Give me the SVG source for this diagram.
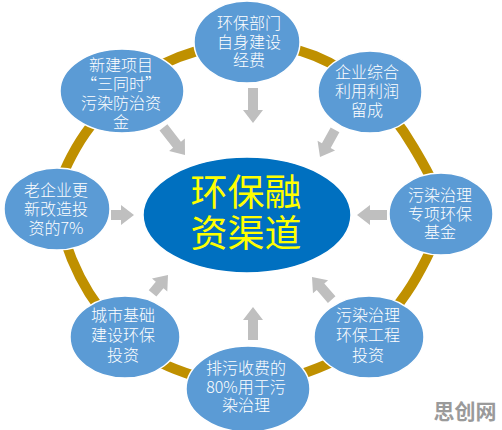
<svg xmlns="http://www.w3.org/2000/svg" width="502" height="430" viewBox="0 0 502 430">
<style>
.node{fill:#5B9BD5;stroke:#FFFFFF;stroke-width:1.5}
.nt{font-family:"Noto Sans CJK SC","Noto Sans",sans-serif;font-size:16px;font-weight:300;fill:#FFFFFF;text-anchor:middle}
.ct{font-family:"Noto Sans CJK SC",sans-serif;font-size:37px;fill:#FFFF00;text-anchor:middle}
.arr{fill:#BFBFBF}
.ring{fill:none;stroke:#BF9000;stroke-width:10}
</style>
<rect width="502" height="430" fill="#FFFFFF"/>
<g id="ring">
<path class="ring" d="M248,44 C270.7,43.8 294.7,48 315,56 C335.3,64 353.5,76.7 370,92 C386.5,107.3 402.3,128 414,148 C425.7,168 439.7,190.3 440,212 C440.3,233.7 427.8,257.2 416,278 C404.2,298.8 385.3,322 369,337 C352.7,352 338.2,360 318,368 C297.8,376 271.8,384.8 248,385 C224.2,385.2 195.5,377 175,369 C154.5,361 140.8,352.3 125,337 C109.2,321.7 91.2,299 80,277 C68.8,255 58.7,226.5 58,205 C57.3,183.5 65.3,166.8 76,148 C86.7,129.2 104.8,107.2 122,92 C139.2,76.8 158,65 179,57 C200,49 225.3,44.2 248,44 Z"/>
</g>
<g id="center">
<ellipse cx="247" cy="215" rx="104" ry="58" fill="#0070C0" stroke="#FFFFFF" stroke-width="1.5"/>
<text class="ct" x="246" y="206">环保融<tspan x="246" dy="41">资渠道</tspan></text>
</g>
<g id="n-top">
<ellipse class="node" cx="247" cy="42" rx="53" ry="41"/>
<text class="nt" x="249" y="29">环保部门<tspan x="249" dy="19">自身建设</tspan><tspan x="249" dy="18">经费</tspan></text>
</g>
<g id="n-ul">
<ellipse class="node" cx="122" cy="91" rx="62" ry="42"/>
<text class="nt" x="121" y="71">新建项目<tspan x="121" dy="19">“三同时”</tspan><tspan x="121" dy="19">污染防治资</tspan><tspan x="121" dy="19">金</tspan></text>
</g>
<g id="n-ur">
<ellipse class="node" cx="370" cy="92" rx="52" ry="41"/>
<text class="nt" x="367" y="78">企业综合<tspan x="367" dy="19">利用利润</tspan><tspan x="367" dy="19">留成</tspan></text>
</g>
<g id="n-left">
<ellipse class="node" cx="57" cy="209" rx="53" ry="41"/>
<text class="nt" x="56" y="196">老企业更<tspan x="56" dy="19">新改造投</tspan><tspan x="56" dy="19">资的7%</tspan></text>
</g>
<g id="n-right">
<ellipse class="node" cx="441" cy="214" rx="52" ry="41"/>
<text class="nt" x="440" y="201">污染治理<tspan x="440" dy="19">专项环保</tspan><tspan x="440" dy="18">基金</tspan></text>
</g>
<g id="n-ll">
<ellipse class="node" cx="125" cy="337" rx="55" ry="41"/>
<text class="nt" x="123" y="321">城市基础<tspan x="123" dy="20">建设环保</tspan><tspan x="123" dy="20">投资</tspan></text>
</g>
<g id="n-lr">
<ellipse class="node" cx="369" cy="337" rx="55" ry="41"/>
<text class="nt" x="368" y="321">污染治理<tspan x="368" dy="20">环保工程</tspan><tspan x="368" dy="20">投资</tspan></text>
</g>
<g id="n-bottom">
<ellipse class="node" cx="248" cy="389" rx="62" ry="43"/>
<text class="nt" x="246" y="374">排污收费的<tspan x="246" dy="19">80%用于污</tspan><tspan x="246" dy="18">染治理</tspan></text>
</g>
<g id="connectors">
<polygon class="arr" transform="translate(253,123) rotate(90)" points="-35,-5 -13,-5 -13,-10 0,0 -13,10 -13,5 -35,5"/>
<polygon class="arr" transform="translate(185,155) rotate(52)" points="-35,-5 -13,-5 -13,-10 0,0 -13,10 -13,5 -35,5"/>
<polygon class="arr" transform="translate(320,157) rotate(119)" points="-31,-5 -13,-5 -13,-10 0,0 -13,10 -13,5 -31,5"/>
<polygon class="arr" transform="translate(134,215)" points="-23,-5 -13,-5 -13,-10 0,0 -13,10 -13,5 -23,5"/>
<polygon class="arr" transform="translate(357,215) rotate(180)" points="-30,-5 -13,-5 -13,-10 0,0 -13,10 -13,5 -30,5"/>
<polygon class="arr" transform="translate(168,275) rotate(-50)" points="-24,-5 -13,-5 -13,-10 0,0 -13,10 -13,5 -24,5"/>
<polygon class="arr" transform="translate(253,307) rotate(-90)" points="-33,-5 -13,-5 -13,-10 0,0 -13,10 -13,5 -33,5"/>
<polygon class="arr" transform="translate(312,277) rotate(-131)" points="-30,-5 -13,-5 -13,-10 0,0 -13,10 -13,5 -30,5"/>
</g>
<text x="465" y="419" font-family="Noto Sans CJK SC,sans-serif" font-size="21" font-weight="bold" fill="#9A9A9A" text-anchor="middle">思创网</text>
</svg>
